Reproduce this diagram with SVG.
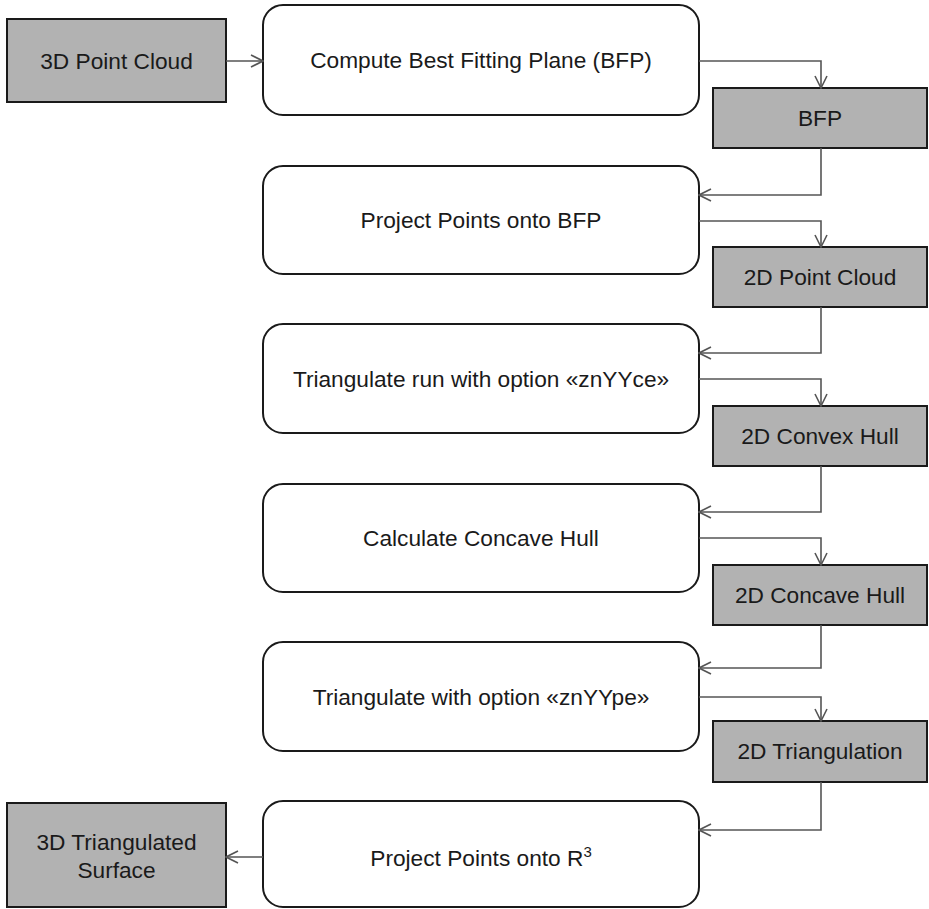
<svg xmlns="http://www.w3.org/2000/svg" width="929" height="909" viewBox="0 0 929 909">
<style>
.proc{fill:#fff;stroke:#1a1a1a;stroke-width:2}
.data{fill:#b2b2b2;stroke:#1a1a1a;stroke-width:2}
text{font-family:"Liberation Sans",Arial,sans-serif;font-size:22.7px;fill:#1a1a1a;text-anchor:middle}
.conn{fill:none;stroke:#555;stroke-width:1.6}
</style>
<defs>
<marker id="arr" viewBox="0 0 14 14" refX="13" refY="7" markerWidth="14" markerHeight="14" markerUnits="userSpaceOnUse" orient="auto">
<path d="M1,1 L13,7 L1,13" fill="none" stroke="#555" stroke-width="1.6"/>
</marker>
</defs>
<rect width="929" height="909" fill="#fff"/>
<g id="n-3dpc"><rect class="data" x="7" y="19" width="219" height="83"/><text x="116.5" y="69">3D Point Cloud</text></g>
<g id="p1"><rect class="proc" x="263" y="5" width="436" height="110" rx="20"/><text x="481" y="68">Compute Best Fitting Plane (BFP)</text></g>
<g id="n-bfp"><rect class="data" x="713" y="88" width="214" height="60"/><text x="820" y="126">BFP</text></g>
<g id="p2"><rect class="proc" x="263" y="166" width="436" height="108" rx="20"/><text x="481" y="228">Project Points onto BFP</text></g>
<g id="n-2dpc"><rect class="data" x="713" y="247" width="214" height="60"/><text x="820" y="285">2D Point Cloud</text></g>
<g id="p3"><rect class="proc" x="263" y="324" width="436" height="109" rx="20"/><text x="481" y="387">Triangulate run with option «znYYce»</text></g>
<g id="n-convex"><rect class="data" x="713" y="406" width="214" height="60"/><text x="820" y="444">2D Convex Hull</text></g>
<g id="p4"><rect class="proc" x="263" y="484" width="436" height="108" rx="20"/><text x="481" y="546">Calculate Concave Hull</text></g>
<g id="n-concave"><rect class="data" x="713" y="565" width="214" height="60"/><text x="820" y="603">2D Concave Hull</text></g>
<g id="p5"><rect class="proc" x="263" y="642" width="436" height="109" rx="20"/><text x="481" y="705">Triangulate with option «znYYpe»</text></g>
<g id="n-tri"><rect class="data" x="713" y="721" width="214" height="61"/><text x="820" y="759">2D Triangulation</text></g>
<g id="p6"><rect class="proc" x="263" y="801" width="436" height="106" rx="20"/><text x="481" y="866">Project Points onto R<tspan dy="-9" font-size="15">3</tspan></text></g>
<g id="n-3dts"><rect class="data" x="7" y="803" width="219" height="104"/><text x="116.5" y="850">3D Triangulated</text><text x="116.5" y="878">Surface</text></g>
<g id="connectors">
<path class="conn" marker-end="url(#arr)" d="M226,61 H263"/>
<path class="conn" marker-end="url(#arr)" d="M699,61 H821 V88"/>
<path class="conn" marker-end="url(#arr)" d="M821,148 V195 H699"/>
<path class="conn" marker-end="url(#arr)" d="M699,221 H821 V247"/>
<path class="conn" marker-end="url(#arr)" d="M821,307 V353 H699"/>
<path class="conn" marker-end="url(#arr)" d="M699,379 H821 V406"/>
<path class="conn" marker-end="url(#arr)" d="M821,466 V512 H699"/>
<path class="conn" marker-end="url(#arr)" d="M699,538 H821 V565"/>
<path class="conn" marker-end="url(#arr)" d="M821,625 V668 H699"/>
<path class="conn" marker-end="url(#arr)" d="M699,697 H821 V721"/>
<path class="conn" marker-end="url(#arr)" d="M821,782 V830 H699"/>
<path class="conn" marker-end="url(#arr)" d="M263,857 H226"/>
</g>
</svg>
